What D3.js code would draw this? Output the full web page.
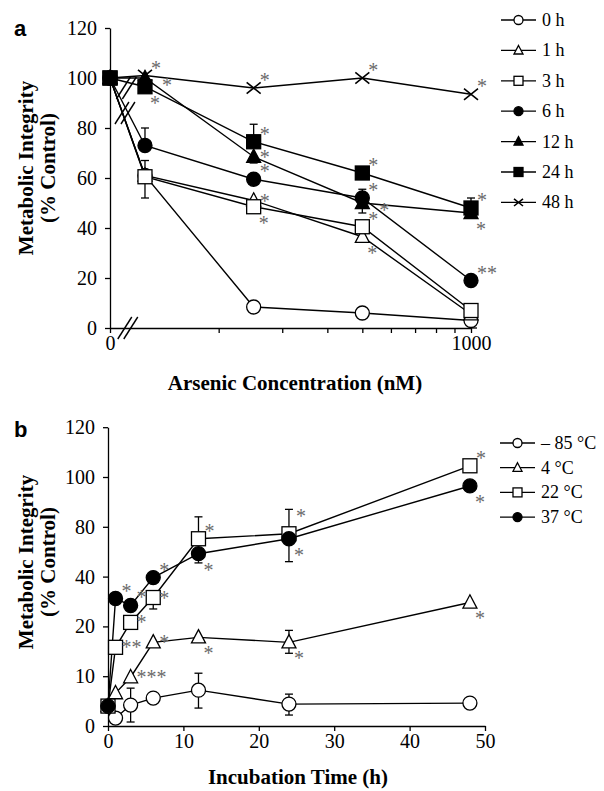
<!DOCTYPE html>
<meta charset="utf-8">
<body style="margin:0;background:#fff">
<script src="https://d3js.org/d3.v7.min.js"></script>
<script>
// ---- panel a data : arsenic concentration (nM) vs metabolic integrity
var concs = [0, 125, 250, 500, 1000];
var aSeries = ["0 h", "1 h", "3 h", "6 h", "12 h", "24 h", "48 h"];
var aMarkers = ["circleO", "triO", "squareO", "circleF", "triF", "squareF", "cross"];
var aValues = [
  [100, 61, 8.4, 6, 3],
  [100, 61, 51, 36.5, 5.5],
  [100, 60.5, 48.5, 40.5, 7],
  [100, 73, 59.5, 52, 19],
  [100, 100, 68.5, 50, 46],
  [100, 96.5, 74.5, 62, 48],
  [100, 101, 96, 100, 93.5]
];
// error bars [series, point, low, high]
var aErrors = [
  [2, 1, 52, 67], [3, 1, 73, 80], [5, 2, 74.5, 81.5], [4, 2, 66, 68.5],
  [3, 3, 46, 55.5], [5, 4, 48, 52]
];
// asterisks [series, point, text, place]
var aStars = [
  [6, 1, "*", "ur"], [4, 1, "*", "rr"], [5, 1, "*", "lr"],
  [6, 2, "*", "ur"], [5, 2, "*", "ur"], [4, 2, "*", "r"], [3, 2, "*", "ur"], [1, 2, "*", "r"], [2, 2, "*", "lr"],
  [6, 3, "*", "ur"], [5, 3, "*", "ur"], [3, 3, "*", "ur"], [4, 3, "*", "rr"], [2, 3, "*", "ur"], [1, 3, "*", "lr"],
  [6, 4, "*", "ur"], [5, 4, "*", "ur"], [4, 4, "*", "lr"], [3, 4, "**", "ur"]
];
var aYTicks = [0, 20, 40, 60, 80, 100, 120];
var aXTicks = [100, 200, 300, 400, 500, 600, 700, 800, 900, 1000];

// ---- panel b data : incubation time (h) vs metabolic integrity
var times = [0, 1, 3, 6, 12, 24, 48];
var bSeries = ["\u2013 85 \u00b0C", "4 \u00b0C", "22 \u00b0C", "37 \u00b0C"];
var bMarkers = ["circleO", "triO", "squareO", "circleF"];
var bValues = [
  [4, 1.6, 4.2, 5.6, 7.2, 4.4, 4.6],
  [4, 6.6, 9.8, 16.8, 17.8, 16.8, 29.6],
  [4, 15.8, 21.6, 31.6, 70.4, 74.4, 104.5],
  [4, 31.2, 28.4, 39.6, 58.4, 70.4, 96.4]
];
var bErrors = [
  [0, 2, 0.8, 7.6], [0, 4, 3.6, 10.6], [0, 5, 2.2, 6.4], [1, 5, 14.6, 19.2],
  [2, 3, 27, 31.6], [2, 4, 70.4, 84], [3, 4, 51, 58.4], [2, 5, 74.4, 87], [3, 5, 52, 70.4]
];
var bStars = [
  [3, 1, "*", "ur"], [2, 1, "**", "r"], [3, 2, "*", "ur"], [2, 2, "*", "r"],
  [3, 3, "*", "ur"], [2, 3, "*", "r"], [1, 3, "*", "r"], [1, 2, "***", "r"],
  [2, 4, "*", "ur"], [3, 4, "*", "lr"], [1, 4, "*", "lr"],
  [2, 5, "*", "ur2"], [3, 5, "*", "lr"], [1, 5, "*", "lr"],
  [2, 6, "*", "ur"], [3, 6, "*", "lr"], [1, 6, "*", "lr"]
];
var bYTicks = [0, 10, 20, 40, 80, 100, 120];
var bXTicks = [0, 10, 20, 30, 40, 50];

var width = 604, height = 791;
var serif = "'Liberation Serif', 'Times New Roman', serif";

var svg = d3.select("body").append("svg")
    .attr("width", width)
    .attr("height", height);

// scales
var xa = d3.scaleLog().domain([100, 1000]).range([110, 471]);
var ya = d3.scaleLinear().domain([0, 120]).range([328, 28]);
var xaPos = function(c) { return c === 0 ? xa(100) : xa(c); };

var xb = d3.scaleLinear().domain([0, 50]).range([108, 485]);
var yb = d3.scaleLinear().domain(bYTicks).range(bYTicks.map(function(d, i) { return 726 - i * 49.8; }));

var starOffset = {
  ur: [11, -11], ur2: [12, -21], r: [11, -3], rr: [22, 4], lr: [10, 13]
};

function drawMarker(g, type, x, y, s) {
  var h = s / 2;
  var fill = /F$/.test(type) ? "#000" : "#fff";
  if (type.indexOf("circle") === 0) {
    g.append("circle").attr("cx", x).attr("cy", y).attr("r", h)
      .attr("fill", fill).attr("stroke", "#000").attr("stroke-width", 1.3);
  } else if (type.indexOf("square") === 0) {
    g.append("rect").attr("x", x - h).attr("y", y - h).attr("width", s).attr("height", s)
      .attr("fill", fill).attr("stroke", "#000").attr("stroke-width", 1.3);
  } else if (type.indexOf("tri") === 0) {
    g.append("path")
      .attr("d", "M" + x + "," + (y - h * 1.1) + "L" + (x + h) + "," + (y + h * 0.8) + "L" + (x - h) + "," + (y + h * 0.8) + "Z")
      .attr("fill", fill).attr("stroke", "#000").attr("stroke-width", 1.3);
  } else if (type === "cross") {
    g.append("path")
      .attr("d", "M" + (x - h) + "," + (y - h * 0.8) + "L" + (x + h) + "," + (y + h * 0.8) +
                 "M" + (x - h) + "," + (y + h * 0.8) + "L" + (x + h) + "," + (y - h * 0.8))
      .attr("stroke", "#000").attr("stroke-width", 1.6).attr("fill", "none");
  }
}

function drawPanel(opt) {
  var g = svg.append("g");
  var line = d3.line()
    .x(function(d, i) { return opt.x(opt.xs[i]); })
    .y(function(d) { return opt.y(d); });

  opt.values.forEach(function(vals) {
    g.append("path").attr("d", line(vals))
      .attr("fill", "none").attr("stroke", "#000").attr("stroke-width", 1.4);
  });

  opt.errors.forEach(function(e) {
    var x = opt.x(opt.xs[e[1]]);
    g.append("line").attr("x1", x).attr("x2", x).attr("y1", opt.y(e[2])).attr("y2", opt.y(e[3]))
      .attr("stroke", "#000").attr("stroke-width", 1.3);
    [e[2], e[3]].forEach(function(v) {
      g.append("line").attr("x1", x - 4).attr("x2", x + 4).attr("y1", opt.y(v)).attr("y2", opt.y(v))
        .attr("stroke", "#000").attr("stroke-width", 1.3);
    });
  });

  opt.values.forEach(function(vals, si) {
    vals.forEach(function(v, i) {
      drawMarker(g, opt.markers[si], opt.x(opt.xs[i]), opt.y(v), opt.size);
    });
  });

  opt.stars.forEach(function(s) {
    var off = starOffset[s[3]];
    g.append("text")
      .attr("x", opt.x(opt.xs[s[1]]) + off[0] - 5)
      .attr("y", opt.y(opt.values[s[0]][s[1]]) + off[1] + 10)
      .attr("fill", "#6a6a6a")
      .style("font-family", serif)
      .style("font-size", "20px")
      .text(s[2]);
  });

  // legend
  var lg = svg.append("g");
  opt.series.forEach(function(name, i) {
    var y = opt.legY + i * opt.legStep;
    lg.append("line").attr("x1", opt.legX).attr("x2", opt.legX + 35).attr("y1", y).attr("y2", y)
      .attr("stroke", "#000").attr("stroke-width", 1.3);
    drawMarker(lg, opt.markers[i], opt.legX + 17.5, y, 9);
    lg.append("text").attr("x", opt.legX + 41).attr("y", y + 6)
      .style("font-family", serif).style("font-size", "18px")
      .text(name);
  });
}

function styleAxis(ax) {
  ax.selectAll("path, line").attr("stroke", "#000").attr("stroke-width", 1.3);
  ax.selectAll("text").style("font-family", serif).style("font-size", "20px").attr("fill", "#000");
}

function yTitle(cx, cy) {
  var t = svg.append("g").attr("transform", "translate(" + cx + "," + cy + ") rotate(-90)");
  t.append("text").attr("text-anchor", "middle").attr("y", 0)
    .style("font-family", serif).style("font-weight", "bold").style("font-size", "21px").text("Metabolic Integrity");
  t.append("text").attr("text-anchor", "middle").attr("y", 22)
    .style("font-family", serif).style("font-weight", "bold").style("font-size", "21px").text("(% Control)");
}

function xTitle(cx, y, label) {
  svg.append("text").attr("x", cx).attr("y", y).attr("text-anchor", "middle")
    .style("font-family", serif).style("font-weight", "bold").style("font-size", "21px")
    .text(label);
}

// ---------- panel a
var ayAxis = svg.append("g").attr("transform", "translate(110,0)")
  .call(d3.axisLeft(ya).tickValues(aYTicks).tickSize(5).tickSizeOuter(0).tickPadding(8));
styleAxis(ayAxis);
var axAxis = svg.append("g").attr("transform", "translate(0,328)")
  .call(d3.axisBottom(xa).tickValues(aXTicks).tickSize(5).tickSizeOuter(0).tickPadding(3)
    .tickFormat(function(d) { return d === 100 ? "0" : (d === 1000 ? "1000" : ""); }));
styleAxis(axAxis);
svg.append("line").attr("x1", xa(1000)).attr("x2", xa(1000) + 6).attr("y1", 328).attr("y2", 328)
  .attr("stroke", "#000").attr("stroke-width", 1.3);

drawPanel({
  x: xaPos, y: ya, xs: concs, values: aValues, markers: aMarkers, errors: aErrors,
  stars: aStars, series: aSeries, size: 14, legX: 501, legY: 20, legStep: 30.4
});

// axis break marks
function breakMark(cx, cy) {
  [-3, 3].forEach(function(d) {
    svg.append("line")
      .attr("x1", cx + d - 7).attr("y1", cy + 11).attr("x2", cx + d + 7).attr("y2", cy - 11)
      .attr("stroke", "#000").attr("stroke-width", 1.4);
  });
}
breakMark(xa(112), ya(0));
breakMark(xa(111), ya(96));
breakMark(xa(110), ya(86));

svg.append("text").attr("x", 14).attr("y", 36)
  .style("font-family", "'Liberation Sans', Arial, sans-serif").style("font-weight", "bold").style("font-size", "22px")
  .text("a");
yTitle(33, 168);
xTitle(295, 390, "Arsenic Concentration (nM)");

// ---------- panel b
var byAxis = svg.append("g").attr("transform", "translate(108,0)")
  .call(d3.axisLeft(yb).tickValues(bYTicks).tickSize(5).tickSizeOuter(0).tickPadding(8));
styleAxis(byAxis);
var bxAxis = svg.append("g").attr("transform", "translate(0,726)")
  .call(d3.axisBottom(xb).tickValues(bXTicks).tickSize(5).tickSizeOuter(0).tickPadding(3));
styleAxis(bxAxis);

drawPanel({
  x: xb, y: yb, xs: times, values: bValues, markers: bMarkers, errors: bErrors,
  stars: bStars, series: bSeries, size: 14, legX: 500, legY: 443, legStep: 24.7
});

svg.append("text").attr("x", 14).attr("y", 437)
  .style("font-family", "'Liberation Sans', Arial, sans-serif").style("font-weight", "bold").style("font-size", "22px")
  .text("b");
yTitle(33, 562);
xTitle(298, 784, "Incubation Time (h)");
</script>
</body>
